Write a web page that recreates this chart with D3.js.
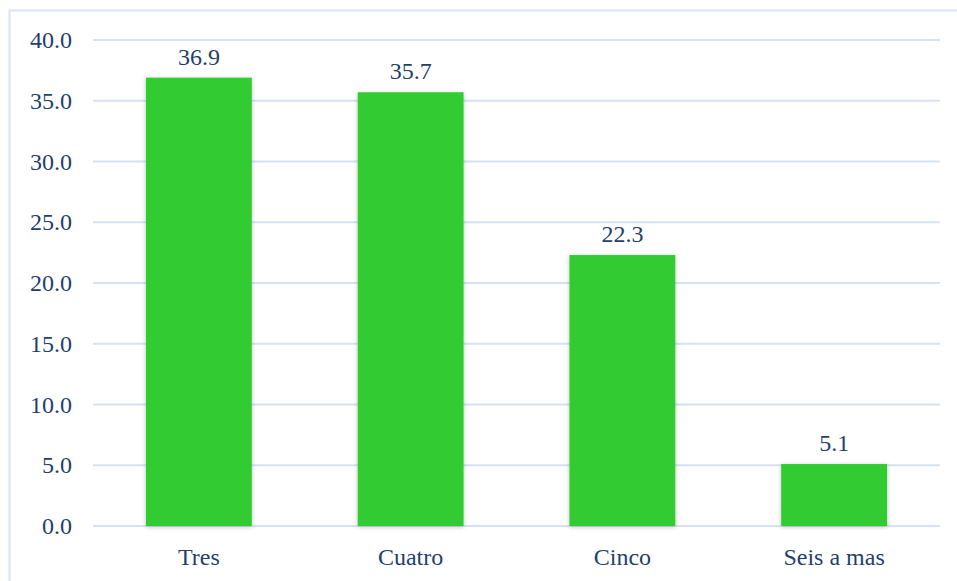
<!DOCTYPE html>
<html><head><meta charset="utf-8">
<script src="https://cdn.jsdelivr.net/npm/d3@7"></script>
<style>body{margin:0;background:#fff}svg{display:block}</style>
</head><body>
<script>
const categories = ["Tres", "Cuatro", "Cinco", "Seis a mas"];
const values = [36.9, 35.7, 22.3, 5.1];
const yTicks = [0, 5, 10, 15, 20, 25, 30, 35, 40];

const W = 957, H = 581;
const svg = d3.select("body").append("svg").attr("width", W).attr("height", H);
const defs = svg.append("defs");
const f = defs.append("filter").attr("id","sh").attr("x","-20%").attr("y","-5%").attr("width","140%").attr("height","110%");
f.append("feDropShadow").attr("dx",0).attr("dy",1).attr("stdDeviation",2).attr("flood-color","#000").attr("flood-opacity",0.25);

// outer border
svg.append("rect").attr("x",9.5).attr("y",10.5).attr("width",W+20).attr("height",H+20)
  .attr("fill","none").attr("stroke","#d9e4f4").attr("stroke-width",2);

const left = 93, right = 940, y0 = 526, yTop = 40;
const x = d3.scaleBand().domain(categories).range([left, right]).paddingInner(0.5).paddingOuter(0.25);
const y = d3.scaleLinear().domain([0, 40]).range([y0, yTop]);
const font = "'Liberation Serif', serif";
const fs = 24;
const col = "#1f3f6e";

svg.append("g").selectAll("line").data(yTicks).join("line")
  .attr("x1", left).attr("x2", right)
  .attr("y1", d => y(d)).attr("y2", d => y(d))
  .attr("stroke", "#d6e2f3").attr("stroke-width", 2);

svg.append("g").selectAll("text").data(yTicks).join("text")
  .attr("x", 72).attr("y", d => y(d) + 8)
  .attr("text-anchor", "end").attr("font-family", font).attr("font-size", fs)
  .attr("fill", col).text(d => d.toFixed(1));

svg.append("g").selectAll("rect").data(values).join("rect")
  .attr("x", (d,i) => x(categories[i])).attr("width", x.bandwidth())
  .attr("y", d => y(d)).attr("height", d => y0 - y(d))
  .attr("fill", "#33cc33").attr("filter","url(#sh)");

svg.append("g").selectAll("text").data(values).join("text")
  .attr("x", (d,i) => x(categories[i]) + x.bandwidth()/2).attr("y", d => y(d) - 13)
  .attr("text-anchor", "middle").attr("font-family", font).attr("font-size", fs)
  .attr("fill", col).text(d => d.toFixed(1));

svg.append("g").selectAll("text").data(categories).join("text")
  .attr("x", d => x(d) + x.bandwidth()/2).attr("y", 565)
  .attr("text-anchor", "middle").attr("font-family", font).attr("font-size", fs)
  .attr("fill", col).text(d => d);
</script>
</body></html>
